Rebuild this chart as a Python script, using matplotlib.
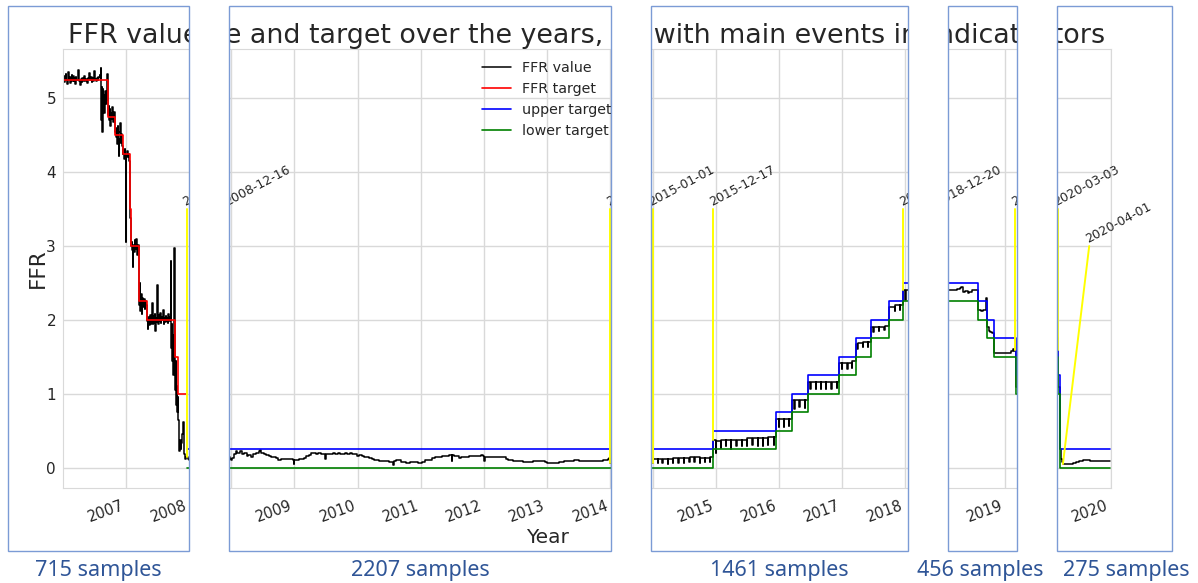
import matplotlib
matplotlib.use("Agg")
import matplotlib.pyplot as plt
import matplotlib.dates as mdates
from matplotlib.patches import Rectangle
from matplotlib.transforms import Bbox, TransformedBbox
import pandas as pd
import seaborn as sns

# ---------------- data ----------------
ffr_2007_2008 = [
    ("2007-01-01", 5.24), ("2007-01-05", 5.30), ("2007-01-09", 5.22), ("2007-01-13", 5.28),
    ("2007-01-17", 5.33), ("2007-01-21", 5.25), ("2007-01-25", 5.20), ("2007-01-31", 5.36),
    ("2007-02-04", 5.26), ("2007-02-08", 5.29), ("2007-02-12", 5.21), ("2007-02-16", 5.27),
    ("2007-02-20", 5.32), ("2007-02-24", 5.24), ("2007-02-28", 5.30), ("2007-03-04", 5.23),
    ("2007-03-08", 5.27), ("2007-03-12", 5.20), ("2007-03-16", 5.29), ("2007-03-20", 5.25),
    ("2007-03-26", 5.31), ("2007-03-31", 5.38), ("2007-04-04", 5.24), ("2007-04-09", 5.18),
    ("2007-04-13", 5.26), ("2007-04-18", 5.22), ("2007-04-23", 5.28), ("2007-04-28", 5.24),
    ("2007-05-03", 5.30), ("2007-05-08", 5.23), ("2007-05-13", 5.26), ("2007-05-18", 5.21),
    ("2007-05-23", 5.28), ("2007-05-31", 5.34), ("2007-06-05", 5.25), ("2007-06-10", 5.29),
    ("2007-06-15", 5.22), ("2007-06-20", 5.27), ("2007-06-25", 5.24), ("2007-06-30", 5.37),
    ("2007-07-05", 5.26), ("2007-07-10", 5.23), ("2007-07-15", 5.28), ("2007-07-20", 5.25),
    ("2007-07-25", 5.29), ("2007-07-31", 5.32), ("2007-08-04", 5.27), ("2007-08-08", 5.41),
    ("2007-08-10", 4.70), ("2007-08-12", 5.15), ("2007-08-15", 4.95), ("2007-08-17", 4.55),
    ("2007-08-19", 5.12), ("2007-08-22", 4.88), ("2007-08-25", 5.05), ("2007-08-28", 4.80),
    ("2007-08-31", 5.10), ("2007-09-04", 4.92), ("2007-09-08", 5.08), ("2007-09-12", 4.98),
    ("2007-09-15", 5.33), ("2007-09-18", 4.78), ("2007-09-21", 4.90), ("2007-09-25", 4.70),
    ("2007-09-28", 4.86), ("2007-10-02", 4.62), ("2007-10-06", 4.80), ("2007-10-10", 4.72),
    ("2007-10-14", 4.88), ("2007-10-18", 4.68), ("2007-10-22", 4.82), ("2007-10-27", 4.75),
    ("2007-10-31", 4.55), ("2007-11-03", 4.48), ("2007-11-07", 4.60), ("2007-11-10", 4.38),
    ("2007-11-14", 4.62), ("2007-11-17", 4.45), ("2007-11-20", 4.22), ("2007-11-23", 4.55),
    ("2007-11-27", 4.66), ("2007-11-30", 4.40), ("2007-12-04", 4.52), ("2007-12-08", 4.35),
    ("2007-12-11", 4.25), ("2007-12-15", 4.30), ("2007-12-19", 4.18), ("2007-12-23", 4.32),
    ("2007-12-27", 4.20), ("2007-12-31", 3.06), ("2008-01-02", 4.22), ("2008-01-06", 4.28),
    ("2008-01-10", 4.20), ("2008-01-14", 4.25), ("2008-01-18", 4.15), ("2008-01-22", 3.50),
    ("2008-01-26", 3.38), ("2008-01-30", 3.00), ("2008-02-02", 3.05), ("2008-02-05", 2.95),
    ("2008-02-08", 2.72), ("2008-02-11", 3.02), ("2008-02-15", 2.92), ("2008-02-19", 3.08),
    ("2008-02-23", 2.96), ("2008-02-27", 3.10), ("2008-03-02", 2.98), ("2008-03-06", 2.88),
    ("2008-03-10", 3.02), ("2008-03-14", 2.92), ("2008-03-18", 2.20), ("2008-03-20", 2.50),
    ("2008-03-23", 2.12), ("2008-03-27", 2.35), ("2008-03-31", 2.08), ("2008-04-04", 2.30),
    ("2008-04-08", 2.18), ("2008-04-12", 2.28), ("2008-04-16", 2.15), ("2008-04-20", 2.25),
    ("2008-04-25", 2.20), ("2008-04-30", 1.98), ("2008-05-04", 1.88), ("2008-05-08", 2.04),
    ("2008-05-12", 1.93), ("2008-05-16", 2.06), ("2008-05-21", 1.95), ("2008-05-25", 2.02),
    ("2008-05-29", 2.23), ("2008-06-02", 1.94), ("2008-06-06", 2.05), ("2008-06-10", 1.96),
    ("2008-06-14", 2.08), ("2008-06-18", 1.85), ("2008-06-22", 2.02), ("2008-06-26", 1.97),
    ("2008-06-30", 2.47), ("2008-07-03", 1.95), ("2008-07-07", 2.06), ("2008-07-11", 1.98),
    ("2008-07-15", 2.10), ("2008-07-19", 1.96), ("2008-07-23", 2.04), ("2008-07-27", 2.00),
    ("2008-07-31", 2.14), ("2008-08-04", 1.95), ("2008-08-08", 2.03), ("2008-08-12", 1.97),
    ("2008-08-16", 2.05), ("2008-08-20", 1.99), ("2008-08-24", 2.02), ("2008-08-28", 1.96),
    ("2008-09-01", 2.08), ("2008-09-05", 1.98), ("2008-09-09", 2.04), ("2008-09-13", 2.00),
    ("2008-09-16", 2.80), ("2008-09-18", 1.62), ("2008-09-21", 1.95), ("2008-09-24", 1.45),
    ("2008-09-27", 1.80), ("2008-09-30", 1.25), ("2008-10-03", 1.65), ("2008-10-06", 2.97),
    ("2008-10-08", 1.35), ("2008-10-11", 1.05), ("2008-10-14", 1.45), ("2008-10-17", 0.85),
    ("2008-10-20", 1.10), ("2008-10-23", 0.75), ("2008-10-26", 0.95), ("2008-10-29", 0.65),
    ("2008-11-01", 0.45), ("2008-11-04", 0.22), ("2008-11-07", 0.38), ("2008-11-11", 0.25),
    ("2008-11-15", 0.33), ("2008-11-19", 0.45), ("2008-11-23", 0.55), ("2008-11-27", 0.62),
    ("2008-11-30", 0.35), ("2008-12-03", 0.18), ("2008-12-07", 0.12), ("2008-12-11", 0.14),
]

ffr_2009_2014 = [
    ("2008-12-16", 0.15), ("2008-12-24", 0.12), ("2008-12-31", 0.10), ("2009-01-08", 0.13),
    ("2009-01-16", 0.18), ("2009-01-26", 0.22), ("2009-02-06", 0.20), ("2009-02-18", 0.22),
    ("2009-03-02", 0.19), ("2009-03-16", 0.20), ("2009-03-31", 0.16), ("2009-04-10", 0.17),
    ("2009-04-24", 0.15), ("2009-05-08", 0.18), ("2009-05-22", 0.20), ("2009-06-08", 0.22),
    ("2009-06-17", 0.24), ("2009-06-24", 0.20), ("2009-07-08", 0.18), ("2009-07-22", 0.17),
    ("2009-08-05", 0.16), ("2009-08-19", 0.15), ("2009-09-02", 0.14), ("2009-09-16", 0.13),
    ("2009-09-30", 0.11), ("2009-10-14", 0.12), ("2009-10-28", 0.12), ("2009-11-11", 0.12),
    ("2009-11-25", 0.12), ("2009-12-09", 0.12), ("2009-12-24", 0.11), ("2009-12-28", 0.05),
    ("2009-12-30", 0.11), ("2010-01-13", 0.11), ("2010-01-27", 0.12), ("2010-02-10", 0.12),
    ("2010-02-24", 0.13), ("2010-03-10", 0.16), ("2010-03-24", 0.17), ("2010-04-07", 0.20),
    ("2010-04-21", 0.20), ("2010-05-05", 0.19), ("2010-05-19", 0.20), ("2010-06-02", 0.19),
    ("2010-06-16", 0.18), ("2010-06-28", 0.12), ("2010-06-30", 0.18), ("2010-07-14", 0.19),
    ("2010-07-28", 0.19), ("2010-08-11", 0.20), ("2010-08-25", 0.19), ("2010-09-08", 0.20),
    ("2010-09-22", 0.19), ("2010-10-06", 0.19), ("2010-10-20", 0.20), ("2010-11-03", 0.19),
    ("2010-11-17", 0.20), ("2010-12-01", 0.18), ("2010-12-15", 0.18), ("2010-12-29", 0.16),
    ("2011-01-12", 0.17), ("2011-01-26", 0.16), ("2011-02-09", 0.15), ("2011-02-23", 0.14),
    ("2011-03-09", 0.13), ("2011-03-23", 0.12), ("2011-04-06", 0.10), ("2011-04-20", 0.10),
    ("2011-05-04", 0.09), ("2011-05-18", 0.09), ("2011-06-01", 0.09), ("2011-06-15", 0.09),
    ("2011-06-29", 0.08), ("2011-07-13", 0.08), ("2011-07-27", 0.04), ("2011-07-29", 0.09),
    ("2011-08-10", 0.10), ("2011-08-24", 0.10), ("2011-09-07", 0.08), ("2011-09-21", 0.08),
    ("2011-10-05", 0.07), ("2011-10-19", 0.07), ("2011-11-02", 0.08), ("2011-11-16", 0.08),
    ("2011-11-30", 0.08), ("2011-12-14", 0.07), ("2011-12-28", 0.06), ("2012-01-11", 0.08),
    ("2012-01-25", 0.10), ("2012-02-08", 0.11), ("2012-02-22", 0.11), ("2012-03-07", 0.13),
    ("2012-03-21", 0.14), ("2012-04-04", 0.14), ("2012-04-18", 0.15), ("2012-05-02", 0.16),
    ("2012-05-16", 0.16), ("2012-05-30", 0.16), ("2012-06-13", 0.17), ("2012-06-27", 0.09),
    ("2012-06-29", 0.17), ("2012-07-11", 0.16), ("2012-07-25", 0.16), ("2012-08-08", 0.13),
    ("2012-08-22", 0.14), ("2012-09-05", 0.15), ("2012-09-19", 0.15), ("2012-10-03", 0.16),
    ("2012-10-17", 0.16), ("2012-10-31", 0.16), ("2012-11-14", 0.16), ("2012-11-28", 0.16),
    ("2012-12-12", 0.17), ("2012-12-26", 0.16), ("2013-01-03", 0.09), ("2013-01-05", 0.15),
    ("2013-01-16", 0.14), ("2013-01-30", 0.14), ("2013-02-13", 0.15), ("2013-02-27", 0.15),
    ("2013-03-13", 0.14), ("2013-03-27", 0.14), ("2013-04-10", 0.15), ("2013-04-24", 0.14),
    ("2013-05-08", 0.12), ("2013-05-22", 0.11), ("2013-06-05", 0.10), ("2013-06-19", 0.09),
    ("2013-07-03", 0.09), ("2013-07-17", 0.09), ("2013-07-31", 0.09), ("2013-08-14", 0.08),
    ("2013-08-28", 0.08), ("2013-09-11", 0.08), ("2013-09-25", 0.08), ("2013-10-09", 0.09),
    ("2013-10-23", 0.09), ("2013-11-06", 0.09), ("2013-11-20", 0.09), ("2013-12-04", 0.09),
    ("2013-12-18", 0.08), ("2014-01-01", 0.07), ("2014-01-15", 0.07), ("2014-01-29", 0.07),
    ("2014-02-12", 0.07), ("2014-02-26", 0.07), ("2014-03-12", 0.08), ("2014-03-26", 0.08),
    ("2014-04-09", 0.09), ("2014-04-23", 0.09), ("2014-05-07", 0.09), ("2014-05-21", 0.09),
    ("2014-06-04", 0.10), ("2014-06-18", 0.10), ("2014-07-02", 0.09), ("2014-07-16", 0.09),
    ("2014-07-30", 0.09), ("2014-08-13", 0.09), ("2014-08-27", 0.09), ("2014-09-10", 0.09),
    ("2014-09-24", 0.09), ("2014-10-08", 0.09), ("2014-10-22", 0.09), ("2014-11-05", 0.09),
    ("2014-11-19", 0.10), ("2014-12-03", 0.11), ("2014-12-17", 0.12), ("2014-12-24", 0.13),
    ("2014-12-31", 0.06),
]

ffr_2015_2018 = [
    ("2015-01-02", 0.12), ("2015-01-30", 0.07), ("2015-02-02", 0.12), ("2015-02-27", 0.06),
    ("2015-03-02", 0.12), ("2015-03-31", 0.05), ("2015-04-01", 0.12), ("2015-04-30", 0.07),
    ("2015-05-01", 0.13), ("2015-05-29", 0.07), ("2015-06-01", 0.13), ("2015-06-30", 0.06),
    ("2015-07-01", 0.13), ("2015-07-31", 0.08), ("2015-08-03", 0.14), ("2015-08-31", 0.08),
    ("2015-09-01", 0.14), ("2015-09-30", 0.07), ("2015-10-01", 0.13), ("2015-10-30", 0.08),
    ("2015-11-02", 0.13), ("2015-11-30", 0.08), ("2015-12-01", 0.14), ("2015-12-17", 0.37),
    ("2015-12-31", 0.20), ("2016-01-04", 0.36), ("2016-01-29", 0.27), ("2016-02-01", 0.37),
    ("2016-02-29", 0.29), ("2016-03-01", 0.37), ("2016-03-31", 0.25), ("2016-04-01", 0.37),
    ("2016-04-29", 0.29), ("2016-05-02", 0.37), ("2016-05-31", 0.30), ("2016-06-01", 0.38),
    ("2016-06-30", 0.29), ("2016-07-01", 0.40), ("2016-07-29", 0.31), ("2016-08-01", 0.40),
    ("2016-08-31", 0.30), ("2016-09-01", 0.40), ("2016-09-30", 0.29), ("2016-10-03", 0.40),
    ("2016-10-31", 0.31), ("2016-11-01", 0.41), ("2016-11-30", 0.31), ("2016-12-01", 0.41),
    ("2016-12-15", 0.66), ("2016-12-30", 0.55), ("2017-01-03", 0.66), ("2017-01-31", 0.55),
    ("2017-02-01", 0.66), ("2017-02-28", 0.56), ("2017-03-01", 0.66), ("2017-03-16", 0.91),
    ("2017-03-31", 0.79), ("2017-04-03", 0.91), ("2017-04-28", 0.82), ("2017-05-01", 0.91),
    ("2017-05-31", 0.81), ("2017-06-01", 0.91), ("2017-06-15", 1.16), ("2017-06-30", 1.06),
    ("2017-07-03", 1.16), ("2017-07-31", 1.06), ("2017-08-01", 1.16), ("2017-08-31", 1.07),
    ("2017-09-01", 1.16), ("2017-09-29", 1.06), ("2017-10-02", 1.16), ("2017-10-31", 1.07),
    ("2017-11-01", 1.16), ("2017-11-30", 1.08), ("2017-12-01", 1.16), ("2017-12-14", 1.42),
    ("2017-12-29", 1.33), ("2018-01-02", 1.42), ("2018-01-31", 1.34), ("2018-02-01", 1.42),
    ("2018-02-28", 1.35), ("2018-03-01", 1.44), ("2018-03-22", 1.68), ("2018-03-29", 1.60),
    ("2018-04-02", 1.69), ("2018-04-30", 1.63), ("2018-05-01", 1.70), ("2018-05-31", 1.64),
    ("2018-06-01", 1.70), ("2018-06-14", 1.91), ("2018-06-29", 1.84), ("2018-07-02", 1.91),
    ("2018-07-31", 1.85), ("2018-08-01", 1.91), ("2018-08-31", 1.86), ("2018-09-04", 1.92),
    ("2018-09-27", 2.18), ("2018-09-28", 2.10), ("2018-10-01", 2.18), ("2018-10-31", 2.12),
    ("2018-11-01", 2.20), ("2018-11-30", 2.13), ("2018-12-03", 2.20),
]

ffr_2019_2020 = [
    ("2018-12-20", 2.40), ("2018-12-31", 2.27), ("2019-01-02", 2.40), ("2019-01-16", 2.40),
    ("2019-01-31", 2.38), ("2019-02-01", 2.40), ("2019-02-15", 2.40), ("2019-03-01", 2.41),
    ("2019-03-15", 2.41), ("2019-04-01", 2.42), ("2019-04-15", 2.43), ("2019-04-25", 2.45),
    ("2019-05-02", 2.38), ("2019-05-15", 2.39), ("2019-05-31", 2.36), ("2019-06-10", 2.38),
    ("2019-06-25", 2.40), ("2019-07-05", 2.41), ("2019-07-18", 2.40), ("2019-08-01", 2.13),
    ("2019-08-15", 2.12), ("2019-08-31", 2.14), ("2019-09-16", 2.25), ("2019-09-17", 2.30),
    ("2019-09-18", 2.25), ("2019-09-19", 1.90), ("2019-10-01", 1.85), ("2019-10-10", 1.83),
    ("2019-10-20", 1.82), ("2019-10-31", 1.55), ("2019-11-20", 1.55), ("2019-12-10", 1.55),
    ("2019-12-31", 1.55), ("2020-01-20", 1.55), ("2020-02-05", 1.58), ("2020-02-15", 1.60),
    ("2020-02-25", 1.58), ("2020-03-04", 1.09), ("2020-03-16", 0.25), ("2020-03-19", 0.12),
    ("2020-03-26", 0.08), ("2020-04-02", 0.05), ("2020-04-20", 0.05), ("2020-05-10", 0.05),
    ("2020-05-30", 0.06), ("2020-06-15", 0.08), ("2020-07-05", 0.09), ("2020-07-25", 0.10),
    ("2020-08-15", 0.10), ("2020-09-05", 0.09), ("2020-10-01", 0.09), ("2020-11-01", 0.09),
    ("2020-12-01", 0.09), ("2020-12-31", 0.09),
]

target_dates = ["2007-01-01", "2007-09-18", "2007-10-31", "2007-12-11", "2008-01-22", "2008-01-30",
                "2008-03-18", "2008-04-30", "2008-10-08", "2008-10-29", "2008-12-16"]
target_vals = [5.25, 4.75, 4.50, 4.25, 3.50, 3.00, 2.25, 2.00, 1.50, 1.00, 1.00]

range_dates = ["2008-12-16", "2015-12-17", "2016-12-15", "2017-03-16", "2017-06-15", "2017-12-14",
               "2018-03-22", "2018-06-14", "2018-09-27", "2018-12-20", "2019-08-01", "2019-09-19",
               "2019-10-31", "2020-03-04", "2020-03-16", "2020-12-31"]
upper_vals = [0.25, 0.50, 0.75, 1.00, 1.25, 1.50, 1.75, 2.00, 2.25, 2.50, 2.25, 2.00, 1.75, 1.25, 0.25, 0.25]
lower_vals = [0.00, 0.25, 0.50, 0.75, 1.00, 1.25, 1.50, 1.75, 2.00, 2.25, 2.00, 1.75, 1.50, 1.00, 0.00, 0.00]

event_labels = ["2008-12-16", "2015-01-01", "2015-12-17", "2018-12-20", "2020-03-03", "2020-04-01"]
event_low = [0.15, 0.06, 0.37, 2.40, 1.59, 0.05]
event_top_dates = ["2008-12-16", "2015-01-01", "2015-12-17", "2018-12-20", "2020-03-03", "2020-08-31"]
event_high = [3.5, 3.5, 3.5, 3.5, 3.5, 3.0]

tick_dates = ["2008-01-01", "2009-01-01", "2010-01-01", "2011-01-01", "2012-01-01", "2013-01-01",
              "2014-01-01", "2015-01-01", "2016-01-01", "2017-01-01", "2018-01-01", "2019-01-01",
              "2020-01-01", "2021-01-01"]
tick_labels = ["2007", "2008", "2009", "2010", "2011", "2012", "2013", "2014", "2015", "2016",
               "2017", "2018", "2019", "2020"]

sample_labels = ["715 samples", "2207 samples", "1461 samples", "456 samples", "275 samples"]
TITLE = "FFR value and target over the years, with main events indicators"

# ---------------- style ----------------
sns.set_style("whitegrid")
plt.rcParams["font.family"] = ["DejaVu Sans"]
GRID = "#d9d9d9"
TXT = "#262626"

W, H = 1198, 583
fig = plt.figure(figsize=(W / 100, H / 100), dpi=100)


def fx(px):
    return px / W


def fy(py):
    return 1 - py / H


def to_num(d):
    return mdates.date2num(pd.to_datetime(d))


ffr = ffr_2007_2008 + ffr_2009_2014 + ffr_2015_2018 + ffr_2019_2020
ffr_x = [to_num(d) for d, _ in ffr]
ffr_y = [v for _, v in ffr]
tgt_x = [to_num(d) for d in target_dates]
rng_x = [to_num(d) for d in range_dates]
tick_x = [to_num(d) for d in tick_dates]

# the uncut chart: plot area spans x 63..948 px and y 49..488 px
AX_L, AX_R, AX_T, AX_B = 63.0, 948.1, 49.0, 488.0
t0, t1 = to_num("2007-01-01"), to_num("2021-01-01")


def px_to_date(xo):
    return t0 + (xo - AX_L) / (AX_R - AX_L) * (t1 - t0)


# slide boxes (left, right) and horizontal shift of the chart slice inside them
panels = [(8, 189, 0.0), (229, 611, 41.7), (651, 908, 83.8), (948, 1017, 120.0), (1057, 1172, 162.4)]
label_cx = [98.5, 420, 779.5, 980.5, 1126]
BOX_T, BOX_B = 6, 551
TITLE_CX = (AX_L + AX_R) / 2

legend_handles = None
for i, (left, right, shift) in enumerate(panels):
    a = max(left - 20, AX_L + shift)
    b = min(right + 20, AX_R + shift)
    ax = fig.add_axes([fx(a), fy(AX_B), fx(b) - fx(a), (AX_B - AX_T) / H])
    clip = TransformedBbox(Bbox.from_extents(fx(left), fy(BOX_B), fx(right), fy(BOX_T)),
                           fig.transFigure)

    ax.plot(ffr_x, ffr_y, color="black", lw=1.1, drawstyle="steps-post", label="FFR value")
    ax.plot(tgt_x, target_vals, color="red", lw=1.2, drawstyle="steps-post", label="FFR target")
    ax.plot(rng_x, upper_vals, color="blue", lw=1.2, drawstyle="steps-post", label="upper target")
    ax.plot(rng_x, lower_vals, color="green", lw=1.2, drawstyle="steps-post", label="lower target")
    for lab, lo, top_d, hi in zip(event_labels, event_low, event_top_dates, event_high):
        ax.plot([to_num(lab), to_num(top_d)], [lo, hi], color="yellow", lw=1.4)
        et = ax.text(to_num(top_d), hi, lab, rotation=28, rotation_mode="anchor", ha="left",
                     va="bottom", fontsize=9, color=TXT)
        et.set_clip_path(None)
        et.set_clip_box(clip)
        et.set_clip_on(True)

    ax.set_xticks(tick_x, labels=tick_labels)
    ax.set_yticks([0, 1, 2, 3, 4, 5])
    # limits after the ticks, otherwise set_xticks widens the view
    ax.set_xlim(px_to_date(a - shift), px_to_date(b - shift))
    ax.set_ylim(-0.275, 5.667)
    ax.tick_params(axis="x", labelsize=10.5, labelrotation=20, colors=TXT)
    ax.tick_params(axis="y", labelsize=11, pad=1.5, colors=TXT)
    for lbl in ax.get_xticklabels():
        lbl.set_horizontalalignment("right")
        lbl.set_clip_box(clip)
        lbl.set_clip_on(True)
    ax.grid(True, color=GRID, lw=1.0)
    for s in ax.spines.values():
        s.set_color(GRID)
    ax.spines["left"].set_visible(i == 0)
    ax.spines["right"].set_visible(i == len(panels) - 1)
    if i == 0:
        ax.set_ylabel("FFR", fontsize=15.5, color=TXT)
        ax.yaxis.set_label_coords(-0.105, 0.5)
    else:
        ax.tick_params(axis="y", labelleft=False)
    if i == 1:
        legend_handles = ax.get_legend_handles_labels()

    t = fig.text(fx(TITLE_CX + shift), fy(43.3), TITLE, ha="center", va="baseline",
                 fontsize=19.4, color=TXT, zorder=3)
    t.set_clip_box(clip)
    t.set_clip_on(True)

# legend and x label of the uncut chart, both inside the second slice
shift2 = panels[1][2]
leg = fig.legend(*legend_handles, loc="upper center",
                 bbox_to_anchor=(fx(TITLE_CX + shift2), fy(AX_T + 6)),
                 bbox_transform=fig.transFigure, frameon=False, fontsize=10.3,
                 labelspacing=0.5, borderaxespad=0)
leg.set_zorder(5)
for txt in leg.get_texts():
    txt.set_color(TXT)
fig.text(fx(TITLE_CX + shift2), fy(542.7), "Year", ha="center", va="baseline",
         fontsize=14.5, color=TXT, zorder=3)

# white gaps between the slices
for (l0, r0, _), (l1, r1, _) in zip(panels[:-1], panels[1:]):
    fig.add_artist(Rectangle((fx(r0), 0), fx(l1) - fx(r0), 1, transform=fig.transFigure,
                             facecolor="white", edgecolor="none", zorder=10))

# slide boxes and sample counts
for (left, right, _), cx, txt in zip(panels, label_cx, sample_labels):
    fig.add_artist(Rectangle((fx(left), fy(BOX_B)), fx(right) - fx(left), fy(BOX_T) - fy(BOX_B),
                             transform=fig.transFigure, fill=False, edgecolor="#7b9bd5",
                             lw=1.0, zorder=11))
    fig.text(fx(cx), fy(576), txt, ha="center", va="baseline", fontsize=15.5,
             family="Noto Sans", color="#2f5597", zorder=12)

fig.savefig("out.png", dpi=100, facecolor="white")
